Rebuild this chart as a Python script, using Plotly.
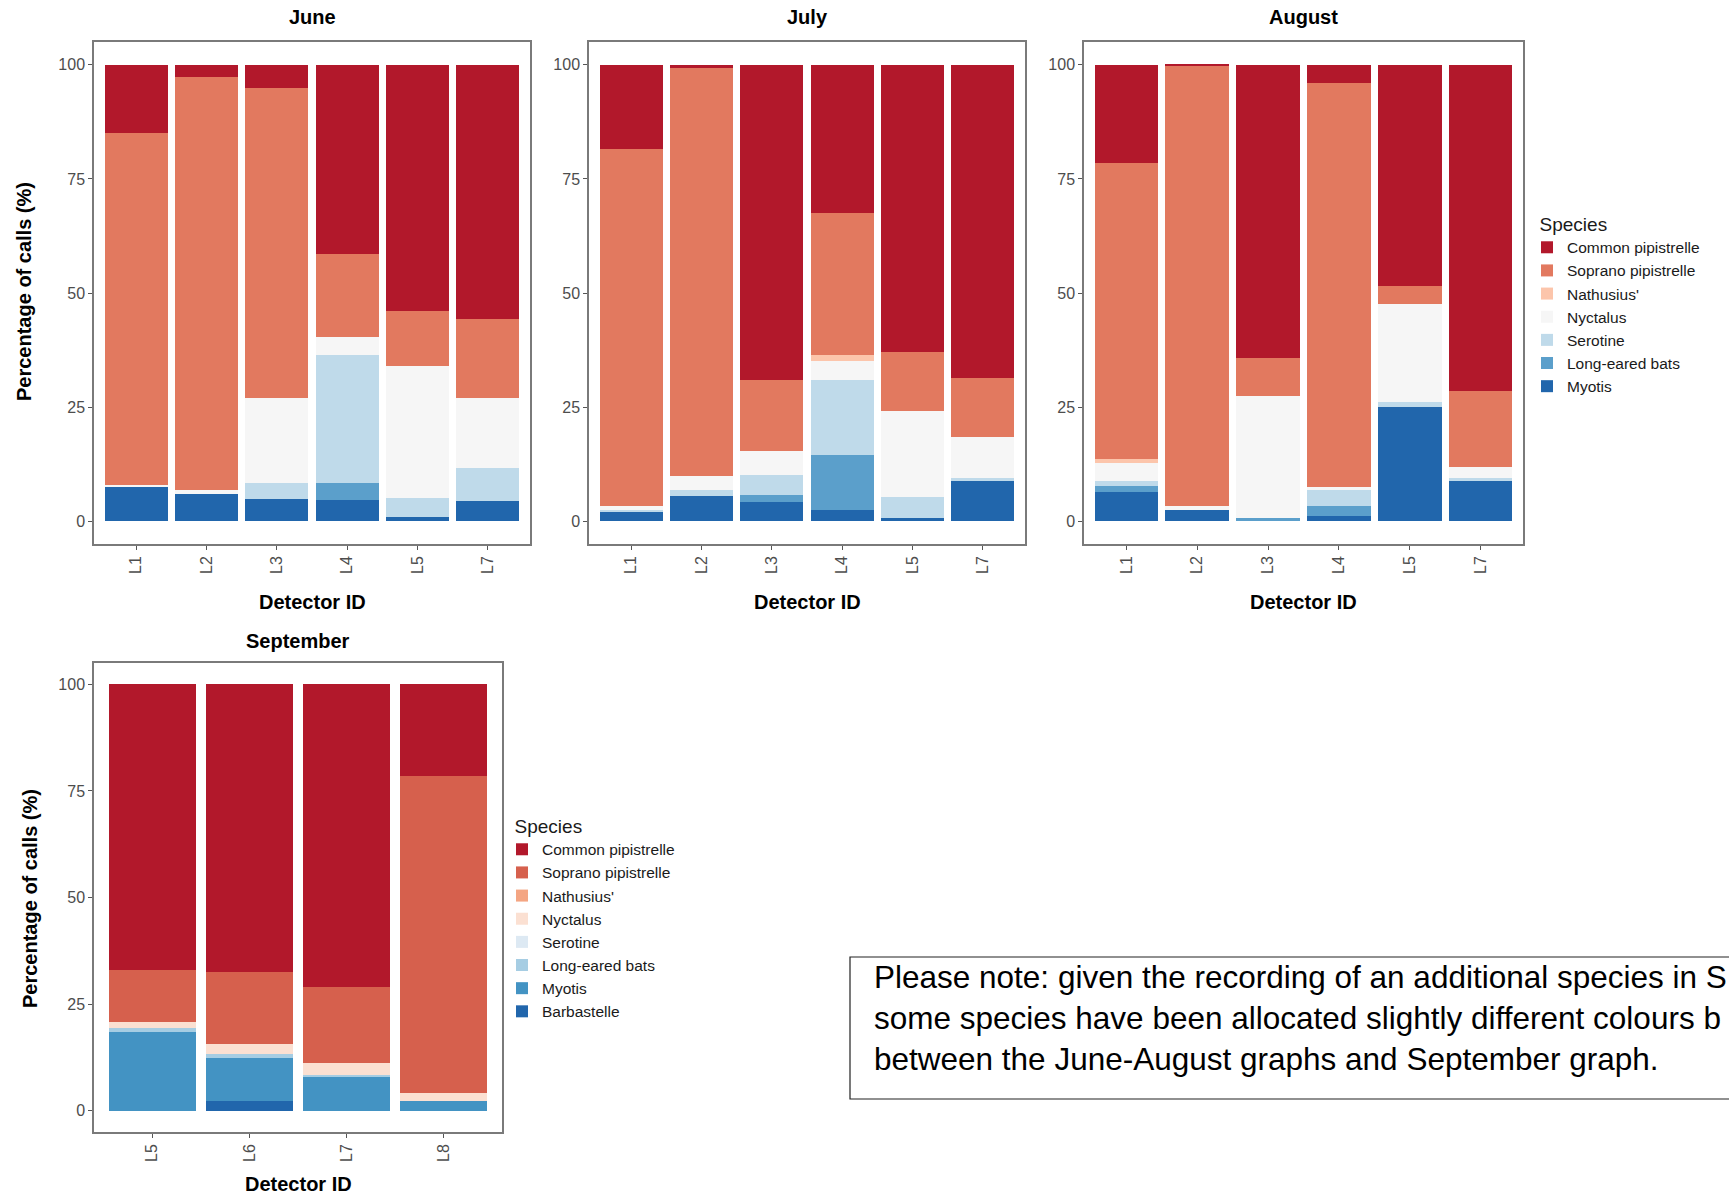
import plotly.graph_objects as go

W, H = 1729, 1198

# ---------------- data ----------------
detectors_jja = ["L1", "L2", "L3", "L4", "L5", "L7"]
detectors_sep = ["L5", "L6", "L7", "L8"]

# June–August species, listed bottom -> top of each stack
species_jja = ["Myotis", "Long-eared bats", "Serotine", "Nyctalus",
               "Nathusius'", "Soprano pipistrelle", "Common pipistrelle"]
colors_jja = ["#2166ac", "#5b9fcb", "#bfdaea", "#f6f6f6",
              "#fcc5ab", "#e2795f", "#b2182b"]

# September species, bottom -> top
species_sep = ["Barbastelle", "Myotis", "Long-eared bats", "Serotine",
               "Nyctalus", "Nathusius'", "Soprano pipistrelle", "Common pipistrelle"]
colors_sep = ["#2166ac", "#4393c3", "#a6cde3", "#dde9f3",
              "#fbe0d2", "#f4a582", "#d6604d", "#b2182b"]

# June (% of calls per detector)
june_myotis = [7.4, 5.9, 4.8, 4.7, 0.9, 4.5]
june_long_eared = [0.0, 0.0, 0.0, 3.6, 0.0, 0.0]
june_serotine = [0.0, 0.0, 3.5, 28.2, 4.1, 7.2]
june_nyctalus = [0.6, 0.9, 18.8, 3.8, 29.1, 15.4]
june_nathusius = [0.0, 0.0, 0.0, 0.0, 0.0, 0.0]
june_soprano = [77.0, 90.6, 67.8, 18.2, 12.0, 17.1]
june_common = [15.0, 2.6, 5.1, 41.5, 53.9, 55.8]

# July
july_myotis = [2.0, 5.6, 4.2, 2.4, 0.7, 8.9]
july_long_eared = [0.0, 0.0, 1.5, 12.1, 0.0, 0.0]
july_serotine = [0.5, 1.2, 4.5, 16.5, 4.5, 0.5]
july_nyctalus = [0.8, 3.2, 5.2, 4.1, 19.0, 9.0]
july_nathusius = [0.0, 0.0, 0.0, 1.3, 0.0, 0.0]
july_soprano = [78.2, 89.4, 15.6, 31.2, 12.9, 12.9]
july_common = [18.5, 0.6, 69.0, 32.4, 62.9, 68.7]

# August
august_myotis = [6.3, 2.4, 0.0, 1.1, 25.1, 8.7]
august_long_eared = [1.5, 0.0, 0.7, 2.2, 0.0, 0.0]
august_serotine = [1.1, 0.0, 0.0, 3.5, 1.1, 0.8]
august_nyctalus = [3.9, 0.9, 26.8, 0.8, 21.4, 2.4]
august_nathusius = [0.9, 0.0, 0.0, 0.0, 0.0, 0.0]
august_soprano = [64.8, 96.5, 8.3, 88.5, 3.9, 16.7]
august_common = [21.5, 0.2, 64.2, 3.9, 48.5, 71.4]

# September
sept_barbastelle = [0.0, 2.2, 0.0, 0.0]
sept_myotis = [18.4, 10.1, 7.8, 2.2]
sept_long_eared = [1.1, 0.9, 0.6, 0.0]
sept_serotine = [0.0, 0.0, 0.0, 0.0]
sept_nyctalus = [1.3, 2.4, 2.9, 2.0]
sept_nathusius = [0.0, 0.0, 0.0, 0.0]
sept_soprano = [12.3, 16.9, 17.7, 74.3]
sept_common = [66.9, 67.5, 71.0, 21.5]

y_ticks = [0, 25, 50, 75, 100]

months_jja = [
    ("June", "x", "y", [june_myotis, june_long_eared, june_serotine, june_nyctalus,
                        june_nathusius, june_soprano, june_common]),
    ("July", "x2", "y2", [july_myotis, july_long_eared, july_serotine, july_nyctalus,
                          july_nathusius, july_soprano, july_common]),
    ("August", "x3", "y3", [august_myotis, august_long_eared, august_serotine, august_nyctalus,
                            august_nathusius, august_soprano, august_common]),
]
sept_series = [sept_barbastelle, sept_myotis, sept_long_eared, sept_serotine,
               sept_nyctalus, sept_nathusius, sept_soprano, sept_common]

FONT = "Liberation Sans, Arial, Helvetica, sans-serif"

fig = go.Figure()

for mi, (month, xa, ya, series) in enumerate(months_jja):
    for sp, col, vals in zip(species_jja, colors_jja, series):
        fig.add_trace(go.Bar(
            x=detectors_jja, y=vals, name=sp, xaxis=xa, yaxis=ya,
            marker=dict(color=col, line=dict(width=0)),
            legend="legend", legendgroup=sp, showlegend=(mi == 2),
        ))

for sp, col, vals in zip(species_sep, colors_sep, sept_series):
    fig.add_trace(go.Bar(
        x=detectors_sep, y=vals, name=sp, xaxis="x4", yaxis="y4",
        marker=dict(color=col, line=dict(width=0)),
        legend="legend2", showlegend=True,
    ))

# ---------------- layout ----------------
def px_x(p):
    return p / W

def px_y(p):
    return 1 - p / H

panels = {
    "": ((94, 530), (42, 544), 6),
    "2": ((589, 1025), (42, 544), 6),
    "3": ((1084, 1523), (42, 544), 6),
    "4": ((94, 502), (663, 1132), 4),
}

layout = dict(
    width=W, height=H,
    margin=dict(l=0, r=0, t=0, b=0),
    paper_bgcolor="white", plot_bgcolor="white",
    barmode="stack", bargap=0.1,
    font=dict(family=FONT, color="#000000"),
    showlegend=True,
)

axis_common = dict(
    showgrid=False, zeroline=False, showline=True, mirror=True,
    linecolor="#7a7a7a", linewidth=1.5,
    ticks="outside", ticklen=4, tickcolor="#555555", tickwidth=1,
    tickfont=dict(family=FONT, size=16, color="#4d4d4d"),
)

for key, ((x0, x1), (y0, y1), n) in panels.items():
    layout["xaxis" + key] = dict(
        axis_common, domain=[px_x(x0), px_x(x1)], anchor="y" + key,
        type="category", range=[-0.6, n - 0.4], tickangle=-90,
        fixedrange=True,
    )
    layout["yaxis" + key] = dict(
        axis_common, domain=[px_y(y1), px_y(y0)], anchor="x" + key,
        range=[-5, 105], tickvals=y_ticks, fixedrange=True,
    )

layout["legend"] = dict(
    x=px_x(1527), xanchor="left", y=px_y(206), yanchor="top",
    title=dict(text="&nbsp;&nbsp;Species", font=dict(family=FONT, size=19, color="#1a1a1a")),
    font=dict(family=FONT, size=15.5, color="#1a1a1a"),
    bgcolor="rgba(0,0,0,0)", traceorder="reversed", itemwidth=30,
    tracegroupgap=0,
)
layout["legend2"] = dict(
    x=px_x(502), xanchor="left", y=px_y(808), yanchor="top",
    title=dict(text="&nbsp;&nbsp;Species", font=dict(family=FONT, size=19, color="#1a1a1a")),
    font=dict(family=FONT, size=15.5, color="#1a1a1a"),
    bgcolor="rgba(0,0,0,0)", traceorder="reversed", itemwidth=30,
)

fig.update_layout(**layout)

annotations = []
# panel titles
for text, (x0, x1), ytop in [("June", (94, 530), 17), ("July", (589, 1025), 17),
                              ("August", (1084, 1523), 17), ("September", (94, 502), 641)]:
    annotations.append(dict(text="<b>%s</b>" % text, x=px_x((x0 + x1) / 2), y=px_y(ytop),
                            xref="paper", yref="paper", showarrow=False,
                            xanchor="center", yanchor="middle",
                            font=dict(family=FONT, size=20, color="#000000")))
# x-axis titles
for (x0, x1), yc in [((94, 530), 602), ((589, 1025), 602), ((1084, 1523), 602), ((94, 502), 1184)]:
    annotations.append(dict(text="<b>Detector ID</b>", x=px_x((x0 + x1) / 2), y=px_y(yc),
                            xref="paper", yref="paper", showarrow=False,
                            xanchor="center", yanchor="middle",
                            font=dict(family=FONT, size=20, color="#000000")))
# y-axis titles
for xc, yc in [(24, 292), (30, 899)]:
    annotations.append(dict(text="<b>Percentage of calls (%)</b>", x=px_x(xc), y=px_y(yc),
                            xref="paper", yref="paper", showarrow=False, textangle=-90,
                            xanchor="center", yanchor="middle",
                            font=dict(family=FONT, size=20, color="#000000")))
# note text (as visible in the reference, which is cut at the right edge)
note_lines = ["Please note: given the recording of an additional species in S",
              "some species have been allocated slightly different colours b",
              "between the June-August graphs and September graph."]
annotations.append(dict(text="<br>".join(note_lines), x=px_x(872), y=px_y(957),
                        xref="paper", yref="paper",
                        showarrow=False, xanchor="left", yanchor="top", align="left",
                        font=dict(family=FONT, size=31.5, color="#000000")))
fig.update_layout(annotations=annotations)

fig.add_shape(type="rect", xref="paper", yref="paper",
              x0=px_x(850), x1=px_x(1760), y0=px_y(1099), y1=px_y(957),
              line=dict(color="#222222", width=1.2), fillcolor="rgba(0,0,0,0)")

fig.write_html("out.html", config={"displayModeBar": False},
               post_script="document.body.style.margin='0';")
